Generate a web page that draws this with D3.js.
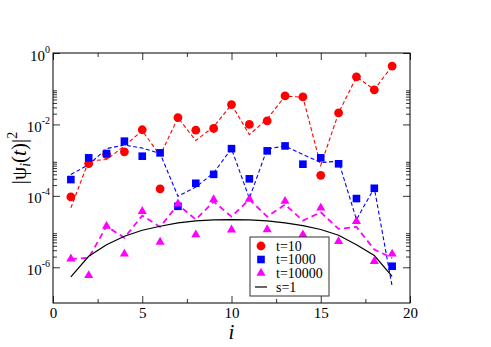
<!DOCTYPE html>
<html><head><meta charset="utf-8">
<script src="https://cdn.jsdelivr.net/npm/d3@7"></script>
<style>
html,body{margin:0;padding:0;background:#fff;}
svg{display:block;}
svg text{font-family:"Liberation Serif","Times New Roman","DejaVu Serif",serif !important;fill:#000;}
</style></head>
<body>
<svg id="chart" width="491" height="347"></svg>
<script>
// ---- data ----
const sites = [1,2,3,4,5,6,7,8,9,10,11,12,13,14,15,16,17,18,19];
const t10Points   = [9.4e-5,8.0e-4,1.43e-3,1.71e-3,7.1e-3,1.57e-4,1.56e-2,6.9e-3,7.7e-3,3.6e-2,1.0e-2,1.26e-2,6.3e-2,5.9e-2,3.75e-4,2.1e-2,0.215,0.093,0.43];
const t10Line     = [4.6e-5,9.5e-4,1.04e-3,2.5e-3,6.7e-3,1.35e-3,1.54e-2,3.54e-3,8.6e-3,3.6e-2,5.2e-3,1.42e-2,6.2e-2,5.8e-2,7.1e-4,2.1e-2,0.213,0.095,0.43];
const t1000Points = [2.86e-4,1.16e-3,1.53e-3,3.4e-3,1.29e-3,1.6e-3,5.1e-5,2.25e-4,4.0e-4,2.1e-3,3.0e-4,1.82e-3,2.5e-3,7.7e-4,1.16e-3,7.9e-4,8.4e-5,1.63e-4,1.07e-6];
const t1000Line   = [3.95e-4,7.5e-4,2.1e-3,2.65e-3,2.18e-3,1.53e-3,9.7e-5,1.76e-4,4.4e-4,2.1e-3,8.5e-5,2.07e-3,2.48e-3,1.43e-3,8.6e-4,9.3e-4,2.17e-5,1.67e-4,2.9e-7];
const t10000Points= [1.72e-6,5.9e-7,1.41e-5,2.37e-6,3.7e-5,5.1e-6,5.97e-5,8.2e-6,7.9e-5,1.12e-5,8.1e-5,1.14e-5,7.1e-5,8.2e-6,4.6e-5,5.3e-6,1.94e-5,1.47e-6,2.37e-6];
const t10000Line  = [1.72e-6,1.83e-6,1.41e-5,6.7e-6,2.8e-5,1.35e-5,5.7e-5,2.17e-5,6.9e-5,2.63e-5,7.9e-5,2.63e-5,5.7e-5,2.03e-5,3.47e-5,1.19e-5,1.35e-5,3.13e-6,1.83e-6];
const s1Line      = [5.4e-7,2.03e-6,4.3e-6,7.4e-6,1.09e-5,1.41e-5,1.75e-5,2.0e-5,2.13e-5,2.17e-5,2.13e-5,2.0e-5,1.75e-5,1.47e-5,1.14e-5,7.9e-6,4.3e-6,2.13e-6,5.6e-7];
const xMajorTicks = [0,5,10,15,20];
const xMinorTicks = [2.5,7.5,12.5,17.5];
const yMajorTicks = [1,1e-2,1e-4,1e-6];
const yMajorExp   = ["0","-2","-4","-6"];
const yMinorTicks = [2,3,4,5,6,7,8,9].flatMap(k => [k*1e-2,k*1e-4,k*1e-6]);
const legendLabels = ["t=10","t=1000","t=10000","s=1"];

// ---- layout ----
const SERIF = '"Liberation Serif","Times New Roman","DejaVu Serif",serif';
const L = 53, T = 53, R = 410, B = 303;
const svg = d3.select("#chart");
const x = d3.scaleLinear().domain([0,20]).range([L,R]);
const y = d3.scaleLog().domain([1e-7,1]).range([B,T]);

function styleAxis(g){ g.attr("font-family",SERIF); g.select(".domain").remove(); g.selectAll(".tick line").attr("stroke","#333"); }
svg.append("g").attr("transform",`translate(0,${B})`)
  .call(d3.axisBottom(x).tickValues(xMajorTicks).tickSize(-7).tickPadding(4.5).tickFormat(d3.format("d")))
  .call(styleAxis)
  .call(g=>g.selectAll("text").attr("font-size",15).style("font-family",SERIF));
svg.append("g").attr("transform",`translate(0,${B})`)
  .call(d3.axisBottom(x).tickValues(xMinorTicks).tickSize(-4).tickFormat(""))
  .call(styleAxis);
svg.append("g").attr("transform",`translate(0,${T})`)
  .call(d3.axisTop(x).tickValues(xMajorTicks).tickSize(-7).tickFormat(""))
  .call(styleAxis);
svg.append("g").attr("transform",`translate(0,${T})`)
  .call(d3.axisTop(x).tickValues(xMinorTicks).tickSize(-4).tickFormat(""))
  .call(styleAxis);

const yl = svg.append("g").attr("transform",`translate(${L},0)`)
  .call(d3.axisLeft(y).tickValues(yMajorTicks).tickSize(-7).tickPadding(0).tickFormat(""))
  .call(styleAxis);
yl.selectAll(".tick").each(function(d,i){
  const t = d3.select(this).select("text")
    .attr("text-anchor","end").attr("x",-3).attr("dy",null).attr("y",7)
    .attr("font-size",15).style("font-family",SERIF);
  t.append("tspan").text("10");
  t.append("tspan").attr("font-size",10).attr("dy",-8).text(yMajorExp[i]);
});
svg.append("g").attr("transform",`translate(${L},0)`)
  .call(d3.axisLeft(y).tickValues(yMinorTicks).tickSize(-4).tickFormat(""))
  .call(styleAxis);
svg.append("g").attr("transform",`translate(${R},0)`)
  .call(d3.axisRight(y).tickValues(yMajorTicks).tickSize(-7).tickFormat(""))
  .call(styleAxis);
svg.append("g").attr("transform",`translate(${R},0)`)
  .call(d3.axisRight(y).tickValues(yMinorTicks).tickSize(-4).tickFormat(""))
  .call(styleAxis);

svg.append("rect").attr("x",L).attr("y",T).attr("width",R-L).attr("height",B-T)
  .attr("fill","none").attr("stroke","#000").attr("stroke-width",1);

svg.append("clipPath").attr("id","clip").append("rect")
  .attr("x",L).attr("y",T).attr("width",R-L).attr("height",B-T);
const plot = svg.append("g").attr("clip-path","url(#clip)");

const line = d3.line().x((d,i)=>x(sites[i])).y(d=>y(d));
plot.append("path").datum(t10Line).attr("d",line).attr("fill","none")
  .attr("stroke","#ff0000").attr("stroke-width",1.1).attr("stroke-dasharray","4,2.5");
plot.append("path").datum(t1000Line).attr("d",line).attr("fill","none")
  .attr("stroke","#0000ff").attr("stroke-width",1.1).attr("stroke-dasharray","4,2.5");
plot.append("path").datum(t10000Line).attr("d",line).attr("fill","none")
  .attr("stroke","#ff00ff").attr("stroke-width",1.8).attr("stroke-dasharray","6,4");
plot.append("path").datum(s1Line).attr("d",line).attr("fill","none")
  .attr("stroke","#000").attr("stroke-width",1.2);

const tri = d3.symbol().type(d3.symbolTriangle).size(36);
plot.selectAll(".c").data(t10Points).join("circle")
  .attr("cx",(d,i)=>x(sites[i])).attr("cy",d=>y(d)).attr("r",4.4).attr("fill","#ff0000");
plot.selectAll(".s").data(t1000Points).join("rect")
  .attr("x",(d,i)=>x(sites[i])-3.8).attr("y",d=>y(d)-3.8).attr("width",7.6).attr("height",7.6).attr("fill","#0000ff");
plot.selectAll(".t").data(t10000Points).join("path")
  .attr("d",tri).attr("transform",(d,i)=>`translate(${x(sites[i])},${y(d)})`).attr("fill","#ff00ff");

// legend
const lg = svg.append("g");
lg.append("rect").attr("x",250).attr("y",237).attr("width",79).attr("height",59)
  .attr("fill","#fff").attr("stroke","#333").attr("stroke-width",1);
const ly = [246,259.5,273,287];
lg.append("circle").attr("cx",261).attr("cy",ly[0]).attr("r",4.4).attr("fill","#ff0000");
lg.append("rect").attr("x",261-3.8).attr("y",ly[1]-3.8).attr("width",7.6).attr("height",7.6).attr("fill","#0000ff");
lg.append("path").attr("d",tri).attr("transform",`translate(261,${ly[2]})`).attr("fill","#ff00ff");
lg.append("line").attr("x1",255).attr("x2",267).attr("y1",ly[3]).attr("y2",ly[3]).attr("stroke","#000").attr("stroke-width",1.2);
lg.selectAll("text.l").data(legendLabels).join("text")
  .attr("x",276).attr("y",(d,i)=>ly[i]+4.5).attr("font-size",14).style("font-family",SERIF).text(d=>d);

// axis titles
svg.append("text").attr("x",231.5).attr("y",339).attr("text-anchor","middle")
  .attr("font-size",21).attr("font-style","italic").style("font-family",SERIF).text("i");
const yt = svg.append("text").attr("transform","translate(26,158) rotate(-90)")
  .attr("text-anchor","middle").attr("font-size",21).style("font-family",SERIF);
yt.append("tspan").text("|ψ");
yt.append("tspan").attr("font-size",14).attr("font-style","italic").attr("dy",4).text("i");
yt.append("tspan").attr("dy",-4).text("(");
yt.append("tspan").attr("font-style","italic").text("t");
yt.append("tspan").text(")|");
yt.append("tspan").attr("font-size",14).attr("dy",-9).text("2");
</script>
</body></html>
